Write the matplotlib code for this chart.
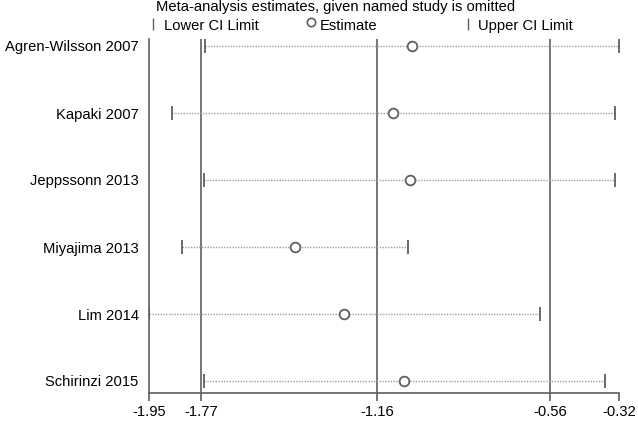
import numpy as np
import matplotlib.pyplot as plt
from matplotlib.lines import Line2D

plt.rcParams['font.family'] = ['Liberation Sans', 'DejaVu Sans']

# Sensitivity analysis: estimate when each study is omitted
studies = ["Agren-Wilsson 2007", "Kapaki 2007", "Jeppssonn 2013",
           "Miyajima 2013", "Lim 2014", "Schirinzi 2015"]
estimate = [-1.038, -1.104, -1.045, -1.444, -1.274, -1.066]
lower_ci = [-1.756, -1.870, -1.759, -1.836, -1.950, -1.759]
upper_ci = [-0.320, -0.334, -0.334, -1.052, -0.594, -0.368]

# Overall limits shown as reference lines
ref_lines = [-1.77, -1.16, -0.56]
xticks = [-1.95, -1.77, -1.16, -0.56, -0.32]
xticklabels = ["-1.95", "-1.77", "-1.16", "-0.56", "-0.32"]

gray = '#5f5f5f'
fs = 10.6

fig = plt.figure(figsize=(6.38, 4.21), dpi=100)
ax = fig.add_axes([149/638, 1 - 393/421, 470/638, (393 - 39)/421])

y = np.arange(1, len(studies) + 1)

for xv in ref_lines:
    ax.axvline(xv, color=gray, lw=1.2, zorder=1)

ax.hlines(y, lower_ci, upper_ci, colors='#a0a0a0', linestyles=(0, (1, 1)), lw=1.0, zorder=2)
ax.plot(lower_ci, y, linestyle='none', marker='|', ms=10, mew=1.3, color=gray, zorder=3)
ax.plot(upper_ci, y, linestyle='none', marker='|', ms=10, mew=1.3, color=gray, zorder=3)
ax.plot(estimate, y, linestyle='none', marker='o', ms=7, mfc='white', mec=gray, mew=1.3, zorder=4)

ax.set_xlim(-1.95, -0.32)
ax.set_ylim(6 + 12/67, 1 - 7/67)

ax.set_yticks(y)
ax.set_yticklabels(studies, fontsize=fs)
ax.tick_params(axis='y', length=0, pad=7.5)

ax.set_xticks(xticks)
ax.set_xticklabels(xticklabels, fontsize=fs)
ax.tick_params(axis='x', length=6, width=1.2, color=gray, pad=3)

for side in ['top', 'right']:
    ax.spines[side].set_visible(False)
ax.spines['left'].set_color(gray)
ax.spines['left'].set_linewidth(1.2)
ax.spines['bottom'].set_color(gray)
ax.spines['bottom'].set_linewidth(1.2)

# Title and legend on top
fig.text(336/638, 1 - 7/421, "Meta-analysis estimates, given named study is omitted",
         ha='center', va='center', fontsize=fs)

def fx(px):
    return px / 638

def fy(py):
    return 1 - py / 421

fig.add_artist(Line2D([fx(153)], [fy(24)], marker='|', ms=9, mew=1.0, color=gray, linestyle='none'))
fig.text(fx(164), fy(26), "Lower CI Limit", ha='left', va='center', fontsize=fs)
fig.add_artist(Line2D([fx(311)], [fy(22)], marker='o', ms=6, mfc='white', mec=gray, mew=1.2, linestyle='none'))
fig.text(fx(320), fy(26), "Estimate", ha='left', va='center', fontsize=fs)
fig.add_artist(Line2D([fx(468)], [fy(24)], marker='|', ms=9, mew=1.0, color=gray, linestyle='none'))
fig.text(fx(478), fy(26), "Upper CI Limit", ha='left', va='center', fontsize=fs)

fig.savefig('out.png', dpi=100)
